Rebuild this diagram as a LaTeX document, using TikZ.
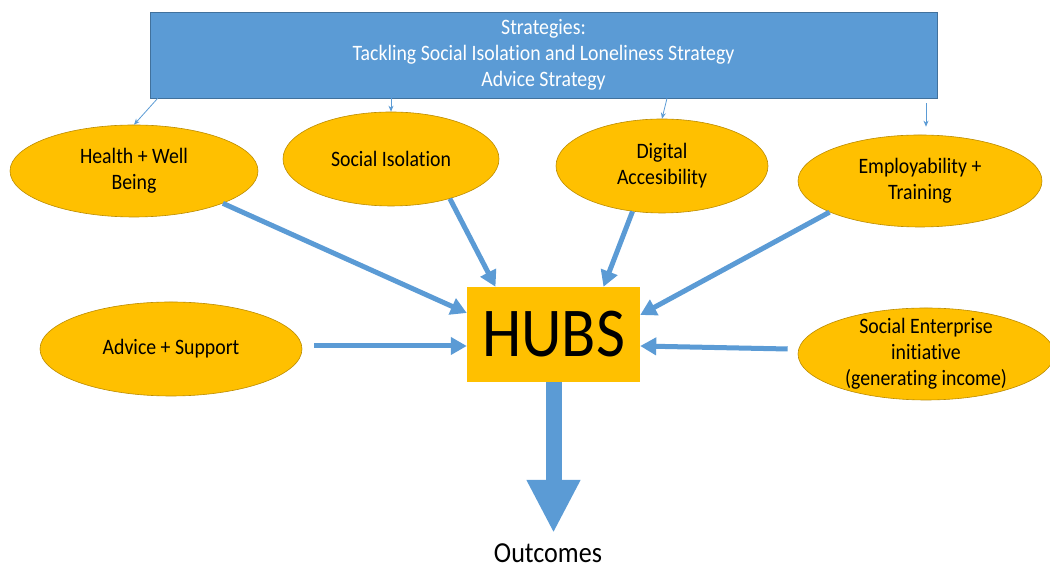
\documentclass[tikz,border=0pt]{standalone}
\usepackage{fontspec}
\setmainfont{Carlito}[FakeStretch=0.9,Ligatures={NoCommon}]
\usepackage{xcolor}
\definecolor{stratblue}{HTML}{5B9BD5}
\definecolor{stratedge}{HTML}{41719C}
\definecolor{hubgold}{HTML}{FFC000}
\definecolor{hubedge}{HTML}{BC8C00}
\usepackage{tikz}
\usetikzlibrary{arrows.meta,positioning,shapes.geometric,calc}
\tikzset{
  >={Stealth[length=6pt,width=5pt]},
  banner/.style={rectangle,draw=stratedge,line width=0.6pt,fill=stratblue,text=white,minimum width=787pt,minimum height=86pt,align=center,font=\fontsize{22}{26}\selectfont},
  theme/.style={ellipse,draw=hubedge,line width=0.6pt,fill=hubgold,inner sep=0pt,align=center,font=\fontsize{22}{26}\selectfont},
  hub/.style={rectangle,fill=hubgold,minimum width=173pt,minimum height=95pt,inner sep=0pt,font=\fontsize{70}{70}\selectfont},
  guide/.style={->,line width=0.8pt,draw=stratblue},
  feed/.style={-{Triangle[length=16pt,width=17pt]},line width=5pt,draw=stratblue},
  outflow/.style={-{Triangle[length=53pt,width=50pt]},line width=16pt,draw=stratblue}
}

\begin{document}
\begin{tikzpicture}[x=1pt,y=1pt]
  \useasboundingbox (0,0) rectangle (1050,569);

  % Strategy banner
  \node[banner] (strat) at (543.5,514) {Strategies:\\Tackling Social Isolation and Loneliness Strategy\\Advice Strategy};

  % Themes
  \node[theme,minimum width=248pt,minimum height=92pt] (health) at (134,398) {Health + Well\\Being};
  \node[theme,minimum width=216pt,minimum height=94pt] (social) at (391,410) {Social Isolation};
  \node[theme,minimum width=212pt,minimum height=94pt] (digital) at (662,403) {Digital\\Accesibility};
  \node[theme,minimum width=244pt,minimum height=92pt] (employ) at (920,388) {Employability +\\Training};
  \node[theme,minimum width=262pt,minimum height=94pt] (advice) at (171,220) {Advice + Support};
  \node[theme,minimum width=256pt,minimum height=92pt,inner ysep=-14pt] (enterprise) at (926,215) {Social Enterprise\\initiative\\(generating income)};

  % Hub and outcome
  \node[hub] (hubs) at (553.5,234.5) {HUBS};
  \node[anchor=base,inner sep=0pt,font=\fontsize{29}{29}\selectfont] (outcomes) at (548,6) {Outcomes};

  % Strategy links
  \draw[guide] ([xshift=8pt]strat.south west) -- (health.north);
  \draw[guide] (strat.south -| social.north) -- (social.north);
  \draw[guide] ([xshift=5pt]strat.south -| digital.north) -- (digital.north);
  \draw[guide,shorten <=5pt,shorten >=8pt] ([xshift=6pt]strat.south -| employ.north) -- ([xshift=6pt]employ.north);

  % Feeds into the hubs
  \draw[feed] (health.-20) -- ([yshift=21.5pt]hubs.west);
  \draw[feed] (social.-34) -- ([xshift=-58pt]hubs.north);
  \draw[feed] (digital.-123) -- ([xshift=50pt]hubs.north);
  \draw[feed] (employ.-161) -- ([yshift=19.5pt]hubs.east);
  \draw[feed] ([xshift=12pt,yshift=3pt]advice.east) -- ([yshift=-11.5pt]hubs.west);
  \draw[feed] ([xshift=-10pt,yshift=5pt]enterprise.west) -- ([yshift=-11.5pt]hubs.east);

  % Outcomes
  \draw[outflow,shorten >=11pt] (hubs.south) -- (hubs.south |- outcomes.north);
\end{tikzpicture}
\end{document}
